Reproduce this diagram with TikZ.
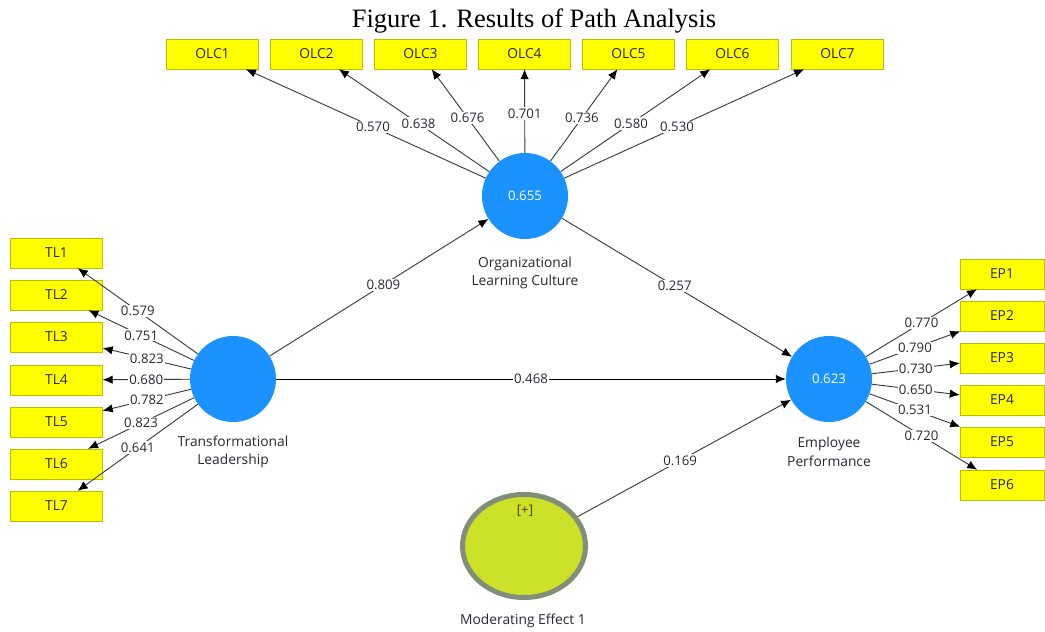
\documentclass[tikz,border=0pt]{standalone}
\usepackage{fontspec}
\setmainfont{Open Sans}
\newfontfamily\titlefont{Liberation Serif}
\usetikzlibrary{arrows.meta,shapes.geometric}
\definecolor{lvblue}{RGB}{26,146,255}
\definecolor{boxyellow}{RGB}{255,255,0}
\definecolor{boxborder}{RGB}{190,190,0}
\definecolor{modfill}{RGB}{205,225,40}
\definecolor{modborder}{RGB}{128,142,122}
\definecolor{linegray}{RGB}{55,55,55}
\definecolor{labcol}{RGB}{40,40,50}
\newcommand\labfont{\fontsize{13.8}{18.5}\selectfont}
\newcommand\numfont{\fontsize{13.2}{16}\selectfont}
\begin{document}
\begin{tikzpicture}[x=1pt,y=-1pt,
  ind/.style={draw=boxborder, fill=boxyellow, minimum width=92pt, minimum height=30pt, inner sep=0pt, font=\labfont, text=labcol},
  indr/.style={ind, minimum width=84pt},
  lv/.style={circle, fill=lvblue, minimum size=86pt, inner sep=0pt, text=white, font=\numfont},
  ld/.style={-{Latex[length=10pt,width=8.5pt,black]}, draw=linegray, line width=0.9pt},
  wl/.style={fill=white, inner sep=1.2pt, font=\numfont, text=labcol},
  captxt/.style={font=\labfont, text=labcol, align=center}]
\useasboundingbox (0,0) rectangle (1045,632);
\fill[white] (0,0) rectangle (1045,632);
\node[anchor=base, font=\titlefont\fontsize{26.5}{30}\selectfont] (title) at (534,27) {Figure 1. Results of Path Analysis};
% latent variables
\node[lv] (olc) at (525,196) {0.655};
\node[lv] (tl) at (233,379) {};
\node[lv] (ep) at (829,379) {0.623};
\node[ellipse, draw=modborder, line width=5pt, fill=modfill, minimum width=123pt, minimum height=103pt, inner sep=0pt] (mod) at (524,546) {};
\node[font=\numfont, text={rgb,255:red,70;green,70;blue,0}] (modplus) at (525,511) {[+]};
% captions
\node[captxt] (olccap) at (525,273) {Organizational\\Learning Culture};
\node[captxt] (tlcap) at (233,452) {Transformational\\Leadership};
\node[captxt] (epcap) at (829,452) {Employee\\Performance};
\node[captxt] (modcap) at (523,621) {Moderating Effect 1};
% OLC indicators
\node[ind] (olc1) at (212.5,54) {OLC1};
\node[ind] (olc2) at (316.5,54) {OLC2};
\node[ind] (olc3) at (420.5,54) {OLC3};
\node[ind] (olc4) at (524.5,54) {OLC4};
\node[ind] (olc5) at (628.5,54) {OLC5};
\node[ind] (olc6) at (732.5,54) {OLC6};
\node[ind] (olc7) at (837.5,54) {OLC7};
% TL indicators
\node[ind] (tl1) at (56.5,253) {TL1};
\node[ind] (tl2) at (56.5,295) {TL2};
\node[ind] (tl3) at (56.5,337) {TL3};
\node[ind] (tl4) at (56.5,380) {TL4};
\node[ind] (tl5) at (56.5,422) {TL5};
\node[ind] (tl6) at (56.5,464) {TL6};
\node[ind] (tl7) at (56.5,506) {TL7};
% EP indicators
\node[indr] (ep1) at (1002,274) {EP1};
\node[indr] (ep2) at (1002,316) {EP2};
\node[indr] (ep3) at (1002,358) {EP3};
\node[indr] (ep4) at (1002,400) {EP4};
\node[indr] (ep5) at (1002,442) {EP5};
\node[indr] (ep6) at (1002,485) {EP6};
% OLC loadings
\draw[ld] (olc) -- node[wl,pos=0.47]{0.570} (olc1);
\draw[ld] (olc) -- node[wl,pos=0.47]{0.638} (olc2);
\draw[ld] (olc) -- node[wl,pos=0.47]{0.676} (olc3);
\draw[ld] (olc) -- node[wl,pos=0.47]{0.701} (olc4);
\draw[ld] (olc) -- node[wl,pos=0.47]{0.736} (olc5);
\draw[ld] (olc) -- node[wl,pos=0.47]{0.580} (olc6);
\draw[ld] (olc) -- node[wl,pos=0.47]{0.530} (olc7);
% TL loadings
\draw[ld] (tl) -- node[wl,pos=0.5]{0.579} (tl1);
\draw[ld] (tl) -- node[wl,pos=0.5]{0.751} (tl2);
\draw[ld] (tl) -- node[wl,pos=0.5]{0.823} (tl3);
\draw[ld] (tl) -- node[wl,pos=0.5]{0.680} (tl4);
\draw[ld] (tl) -- node[wl,pos=0.5]{0.782} (tl5);
\draw[ld] (tl) -- node[wl,pos=0.5]{0.823} (tl6);
\draw[ld] (tl) -- node[wl,pos=0.5]{0.641} (tl7);
% EP loadings
\draw[ld] (ep) -- node[wl,pos=0.5]{0.770} (ep1);
\draw[ld] (ep) -- node[wl,pos=0.5]{0.790} (ep2);
\draw[ld] (ep) -- node[wl,pos=0.5]{0.730} (ep3);
\draw[ld] (ep) -- node[wl,pos=0.5]{0.650} (ep4);
\draw[ld] (ep) -- node[wl,pos=0.5]{0.531} (ep5);
\draw[ld] (ep) -- node[wl,pos=0.5]{0.720} (ep6);
% structural paths
\draw[ld] (tl) -- node[wl,pos=0.52]{0.809} (olc);
\draw[ld] (olc) -- node[wl,pos=0.49]{0.257} (ep);
\draw[ld, draw=black] (tl) -- node[wl,pos=0.5]{0.468} (ep);
\draw[ld] (mod) -- node[wl,pos=0.48]{0.169} (ep);
\end{tikzpicture}
\end{document}
